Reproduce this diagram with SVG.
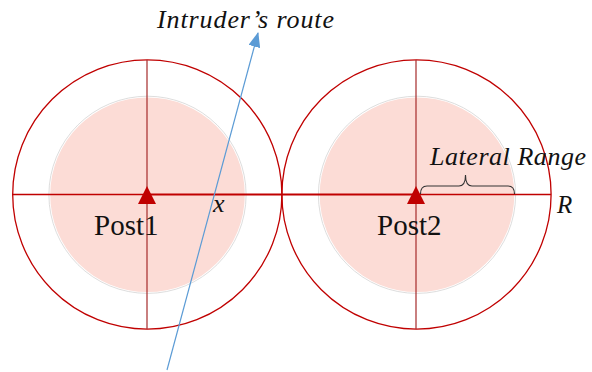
<svg xmlns="http://www.w3.org/2000/svg" width="592" height="372" viewBox="0 0 592 372">
<defs>
<style>
.outer{fill:none;stroke:#C00000;stroke-width:1.3}
.inner{fill:#FCDCD6;stroke:none}
.halo{fill:none;stroke:#d4d4d4;stroke-width:0.8}
.vline{stroke:#A52A2A;stroke-width:1.2}
.post{fill:#C00000}
.lbl{font-family:"Liberation Serif","Times New Roman",serif;fill:#111}
.it{font-style:italic}
</style>
<marker id="ah" markerWidth="15" markerHeight="12" refX="14" refY="6" orient="auto" markerUnits="userSpaceOnUse" viewBox="0 0 15 12">
<path d="M0,0 L15,6 L0,12 Z" fill="#5B9BD5"/>
</marker>
</defs>
<rect width="592" height="372" fill="#fff"/>
<g id="post1">
<circle class="outer" cx="147.3" cy="194.5" r="134.6"/>
<circle class="halo" cx="147.5" cy="194.8" r="98.6"/>
<circle class="inner" cx="147.5" cy="194.8" r="97.3"/>
<line class="vline" x1="147" y1="60" x2="147" y2="329"/>
<text class="lbl" x="94" y="235" font-size="29">Post1</text>
</g>
<g id="post2">
<circle class="outer" cx="416.5" cy="194.5" r="134.6"/>
<circle class="halo" cx="417" cy="194.8" r="98.6"/>
<circle class="inner" cx="417" cy="194.8" r="97.3"/>
<line class="vline" x1="416" y1="60" x2="416" y2="329"/>
<text class="lbl" x="377" y="235" font-size="29">Post2</text>
</g>
<g id="connectors">
<line x1="12" y1="194.5" x2="147" y2="194.5" stroke="#C00000" stroke-width="1.3"/>
<line x1="147" y1="194.5" x2="416" y2="194.5" stroke="#C00000" stroke-width="2.2"/>
<line x1="416" y1="194.5" x2="551" y2="194.5" stroke="#C00000" stroke-width="1.3"/>
<path class="post" d="M138,204 L156,204 L147,186 Z"/>
<path class="post" d="M407,204 L425,204 L416,186 Z"/>
<line x1="167" y1="370" x2="258" y2="33" stroke="#5B9BD5" stroke-width="1.2" marker-end="url(#ah)"/>
<path d="M420.5,194 Q420.5,186 427,186 L459,186 Q465.5,186 465.5,175 Q465.5,186 472,186 L508,186 Q514.5,186 514.5,194" fill="none" stroke="#333" stroke-width="1.1"/>
</g>
<g id="labels">
<text class="lbl it" x="157" y="28" font-size="26" textLength="177" lengthAdjust="spacing">Intruder’s route</text>
<text class="lbl it" x="430" y="165" font-size="26" textLength="156" lengthAdjust="spacing">Lateral Range</text>
<text class="lbl it" x="213" y="212" font-size="26">x</text>
<text class="lbl it" x="557" y="213" font-size="25">R</text>
</g>
</svg>
